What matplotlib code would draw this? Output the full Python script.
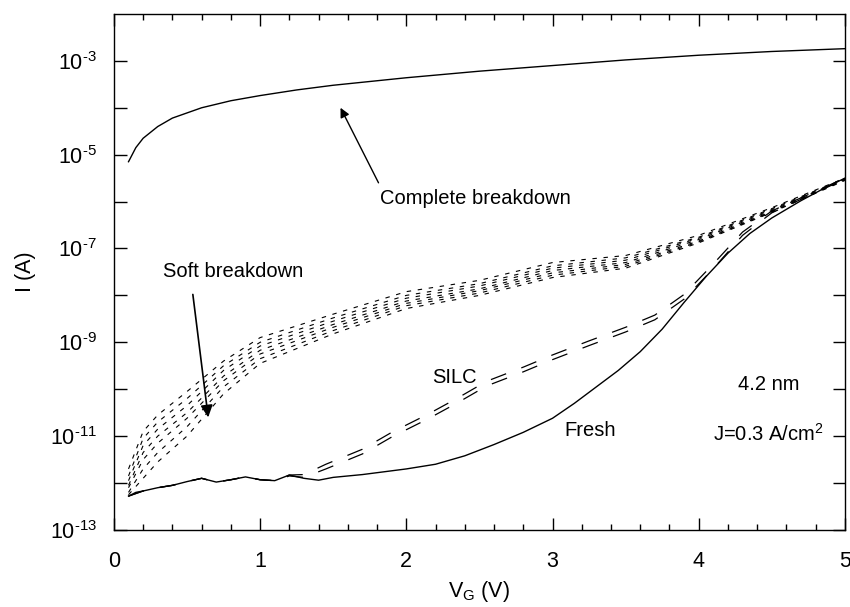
import numpy as np
import matplotlib
matplotlib.use('Agg')
import matplotlib.pyplot as plt
from matplotlib.ticker import FixedLocator, FixedFormatter, MultipleLocator, NullFormatter

plt.rcParams['font.family'] = ['Liberation Sans', 'DejaVu Sans']
plt.rcParams['mathtext.fontset'] = 'custom'
plt.rcParams['mathtext.rm'] = 'Liberation Sans'
plt.rcParams['mathtext.it'] = 'Liberation Sans:italic'

# values, stored as log10(I / A)
v_complete = [0.1, 0.15, 0.2, 0.3, 0.4, 0.6, 0.8, 1.0, 1.25, 1.5, 2.0, 2.5, 3.0, 3.5, 4.0, 4.5, 5.0]
logi_complete = [-5.15, -4.85, -4.65, -4.4, -4.22, -4.0, -3.85, -3.74, -3.62, -3.52,
                 -3.36, -3.22, -3.1, -2.98, -2.88, -2.8, -2.74]

v_fresh = [0.1, 0.15, 0.2, 0.3, 0.4, 0.5, 0.6, 0.7, 0.8, 0.9, 1.0, 1.1, 1.2, 1.3, 1.4,
           1.5, 1.6, 1.7, 1.8, 1.9, 2.0, 2.2, 2.4, 2.6, 2.8, 3.0, 3.15, 3.3, 3.45, 3.6,
           3.75, 3.9, 4.05, 4.2, 4.35, 4.5, 4.7, 4.85, 5.0]
logi_fresh = [-12.28, -12.2, -12.17, -12.1, -12.05, -11.97, -11.9, -11.98, -11.93, -11.87,
              -11.93, -11.95, -11.83, -11.9, -11.94, -11.88, -11.85, -11.82, -11.78, -11.74,
              -11.7, -11.6, -11.42, -11.18, -10.92, -10.62, -10.3, -9.95, -9.6, -9.2,
              -8.72, -8.15, -7.6, -7.1, -6.68, -6.35, -5.98, -5.73, -5.5]

v_silc = [0.1, 0.2, 0.3, 0.4, 0.5, 0.6, 0.7, 0.8, 0.9, 1.0, 1.1, 1.2, 1.3, 1.45, 1.7, 1.9,
          2.15, 2.35, 2.55, 2.8, 3.0, 3.25, 3.5, 3.7, 3.9, 4.1, 4.3, 4.5, 4.75, 5.0]
logi_silc_upper = [-12.28, -12.17, -12.1, -12.05, -11.97, -11.9, -11.98, -11.93, -11.87,
                   -11.93, -11.95, -11.83, -11.82, -11.6, -11.28, -10.92, -10.53, -10.19,
                   -9.83, -9.53, -9.27, -8.97, -8.68, -8.42, -7.98, -7.33, -6.65, -6.2,
                   -5.85, -5.5]
logi_silc_lower = [-12.28, -12.17, -12.1, -12.05, -11.97, -11.9, -11.98, -11.93, -11.87,
                   -11.93, -11.95, -11.85, -11.88, -11.7, -11.38, -11.02, -10.63, -10.29,
                   -9.93, -9.63, -9.37, -9.07, -8.78, -8.52, -8.08, -7.43, -6.72, -6.24,
                   -5.88, -5.52]

v_soft = [0.1, 0.2, 0.3, 0.5, 0.75, 1.0, 1.5, 2.0, 2.5, 3.0, 3.5, 4.0, 4.5, 5.0]
logi_soft = [
    [-11.7, -10.9, -10.55, -10.05, -9.4, -8.9, -8.4, -7.92, -7.68, -7.3, -7.15, -6.72, -6.13, -5.5],
    [-11.85, -11.05, -10.7, -10.2, -9.5, -9.0, -8.48, -8.0, -7.75, -7.37, -7.2, -6.76, -6.15, -5.51],
    [-11.95, -11.2, -10.85, -10.35, -9.6, -9.08, -8.55, -8.06, -7.8, -7.42, -7.25, -6.78, -6.17, -5.52],
    [-12.05, -11.35, -11.0, -10.5, -9.72, -9.17, -8.62, -8.12, -7.86, -7.47, -7.3, -6.81, -6.19, -5.52],
    [-12.1, -11.5, -11.15, -10.62, -9.82, -9.25, -8.68, -8.17, -7.9, -7.52, -7.34, -6.84, -6.21, -5.53],
    [-12.2, -11.7, -11.35, -10.8, -9.95, -9.35, -8.75, -8.22, -7.95, -7.57, -7.38, -6.86, -6.22, -5.54],
    [-12.25, -11.9, -11.55, -11.0, -10.1, -9.45, -8.82, -8.28, -8.0, -7.62, -7.42, -6.88, -6.23, -5.55],
]

y_major = [-13, -11, -9, -7, -5, -3]
y_minor = [-12, -10, -8, -6, -4]
y_labels = [r'10$^{\text{%d}}$' % e for e in y_major]

fig = plt.figure(figsize=(8.5, 6.07), dpi=100)
ax = fig.add_axes([0.134, 0.127, 0.860, 0.850])

ax.plot(v_complete, 10 ** np.array(logi_complete), color='black', lw=1.0)
ax.plot(v_fresh, 10 ** np.array(logi_fresh), color='black', lw=1.0)
for s in (logi_silc_upper, logi_silc_lower):
    ax.plot(v_silc, 10 ** np.array(s), color='black', lw=0.9, ls=(0, (13, 13)))
for s in logi_soft:
    ax.plot(v_soft, 10 ** np.array(s), color='black', lw=0.8, ls=(0, (4, 6)))

ax.set_yscale('log')
ax.set_xlim(0, 5)
ax.set_ylim(1e-13, 1e-2)

ax.xaxis.set_major_locator(MultipleLocator(1))
ax.xaxis.set_minor_locator(MultipleLocator(0.2))
ax.yaxis.set_major_locator(FixedLocator([10.0 ** e for e in y_major]))
ax.yaxis.set_major_formatter(FixedFormatter(y_labels))
ax.yaxis.set_minor_locator(FixedLocator([10.0 ** e for e in y_minor]))
ax.yaxis.set_minor_formatter(NullFormatter())

ax.tick_params(which='both', direction='in', top=True, right=True, width=1.0, labelsize=15.5)
ax.tick_params(axis='x', which='major', length=8.5, pad=15)
ax.tick_params(axis='x', which='minor', length=4.5)
ax.tick_params(axis='y', which='both', length=9, pad=12)
for sp in ax.spines.values():
    sp.set_linewidth(1.0)

ax.set_xlabel(r'V$_{\mathregular{G}}$ (V)', fontsize=15.5, labelpad=5)
ax.set_ylabel('I (A)', fontsize=15.5, labelpad=10)

# annotations
ax.annotate('', xy=(1.55, 10 ** -4.0), xytext=(1.81, 10 ** -5.6),
            arrowprops=dict(arrowstyle='-|>', lw=1.0, color='black',
                            mutation_scale=14, shrinkA=0, shrinkB=0))
ax.text(1.82, 10 ** -5.94, 'Complete breakdown', fontsize=14.5, ha='left', va='center')

ax.annotate('', xy=(0.645, 10 ** -10.6), xytext=(0.54, 10 ** -7.98),
            arrowprops=dict(arrowstyle='-|>', lw=1.2, color='black',
                            mutation_scale=18, shrinkA=0, shrinkB=0))
ax.text(0.336, 10 ** -7.49, 'Soft breakdown', fontsize=14.5, ha='left', va='center')

ax.text(2.18, 10 ** -9.74, 'SILC', fontsize=14.5, ha='left', va='center')
ax.text(3.08, 10 ** -10.89, 'Fresh', fontsize=14.5, ha='left', va='center')
ax.text(4.27, 10 ** -9.89, '4.2 nm', fontsize=14.5, ha='left', va='center')
ax.text(4.10, 10 ** -10.96, r'J=0.3 A/cm$^{\mathregular{2}}$', fontsize=14.5, ha='left', va='center')

fig.savefig('out.png', dpi=100)
